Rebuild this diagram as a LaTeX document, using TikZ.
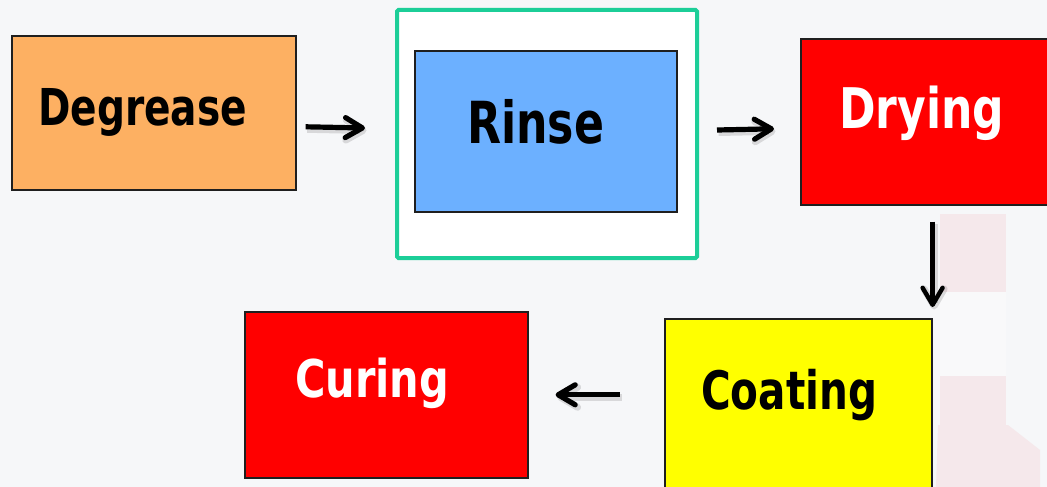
\documentclass[tikz,border=0pt]{standalone}
\usepackage{fontspec}
\usepackage{graphicx}
\setmainfont{DejaVu Sans}
\usetikzlibrary{arrows.meta,calc}
\definecolor{bg}{RGB}{246,247,249}
\definecolor{orangebox}{RGB}{253,176,98}
\definecolor{bluebox}{RGB}{108,176,255}
\definecolor{greenframe}{RGB}{28,206,152}
\definecolor{redbox}{RGB}{255,0,0}
\definecolor{yellowbox}{RGB}{255,255,0}
\definecolor{faintred}{RGB}{245,232,235}
\definecolor{faintwhite}{RGB}{249,249,250}
\begin{document}
\begin{tikzpicture}[x=1pt,y=-1pt,
  box/.style={draw=black!88,line width=1.6pt,anchor=north west,inner sep=0pt},
  lbl/.style={anchor=base west,inner sep=0pt},
  flow/.style={line width=5.2pt,-{Straight Barb[length=17pt,width=20pt,round]},
    preaction={draw=black,opacity=0.12,line width=7pt,transform canvas={xshift=1.5pt,yshift=-2.5pt}}},
  vflow/.style={flow,line width=4.4pt}]
\clip (0,0) rectangle (1047,487);
\fill[bg] (0,0) rectangle (1047,487);
% faint lighthouse in the background
\fill[faintred] (940,214) rectangle (1006,292);
\fill[faintwhite] (940,292) rectangle (1006,376);
\fill[faintred] (940,376) rectangle (1006,425);
\fill[faintred] (938,425) -- (1008,425) -- (1040,450) -- (1040,487) -- (936,487) -- cycle;
% boxes
\node[box,fill=orangebox,minimum width=284pt,minimum height=154pt] (degrease) at (11,35) {};
\node[draw=greenframe,line width=4pt,fill=white,rounded corners=1.5pt,anchor=north west,inner sep=0pt,minimum width=300pt,minimum height=248pt] (rinseframe) at (395,8) {};
\node[box,fill=bluebox,minimum width=262pt,minimum height=161pt] (rinse) at (414,50) {};
\node[box,fill=redbox,minimum width=270pt,minimum height=166pt] (drying) at (800,38) {};
\node[box,fill=yellowbox,minimum width=267pt,minimum height=190pt] (coating) at (664,318) {};
\node[box,fill=redbox,minimum width=283pt,minimum height=166pt] (curing) at (244,311) {};
% labels
\node[lbl] (degreaseT) at (38,125) {\resizebox{209pt}{\height}{\fontsize{50.8}{60}\selectfont\bfseries Degrease}};
\node[lbl] (rinseT) at (467,143) {\resizebox{137pt}{\height}{\fontsize{58}{68}\selectfont\bfseries Rinse}};
\node[lbl,text=white] (dryingT) at (839,128) {\resizebox{165pt}{\height}{\fontsize{56}{66}\selectfont\bfseries Drying}};
\node[lbl] (coatingT) at (701,409) {\resizebox{176pt}{\height}{\fontsize{53}{63}\selectfont\bfseries Coating}};
\node[lbl,text=white] (curingT) at (295,397) {\resizebox{154pt}{\height}{\fontsize{52}{62}\selectfont\bfseries Curing}};
% connectors
\draw[flow] ($(degrease.east)+(9,14)$) -- ($(rinseframe.west)+(-30,-6)$);
\draw[flow] ($(rinseframe.east)+(18,-4)$) -- ($(drying.west)+(-26,7)$);
\draw[vflow] ($(coating.north east |- drying.south)+(0,16)$) -- ($(coating.north east)+(0,-11)$);
\draw[flow] ($(coating.west)+(-44,-19)$) -- ($(curing.east)+(27,0)$);
\end{tikzpicture}
\end{document}
